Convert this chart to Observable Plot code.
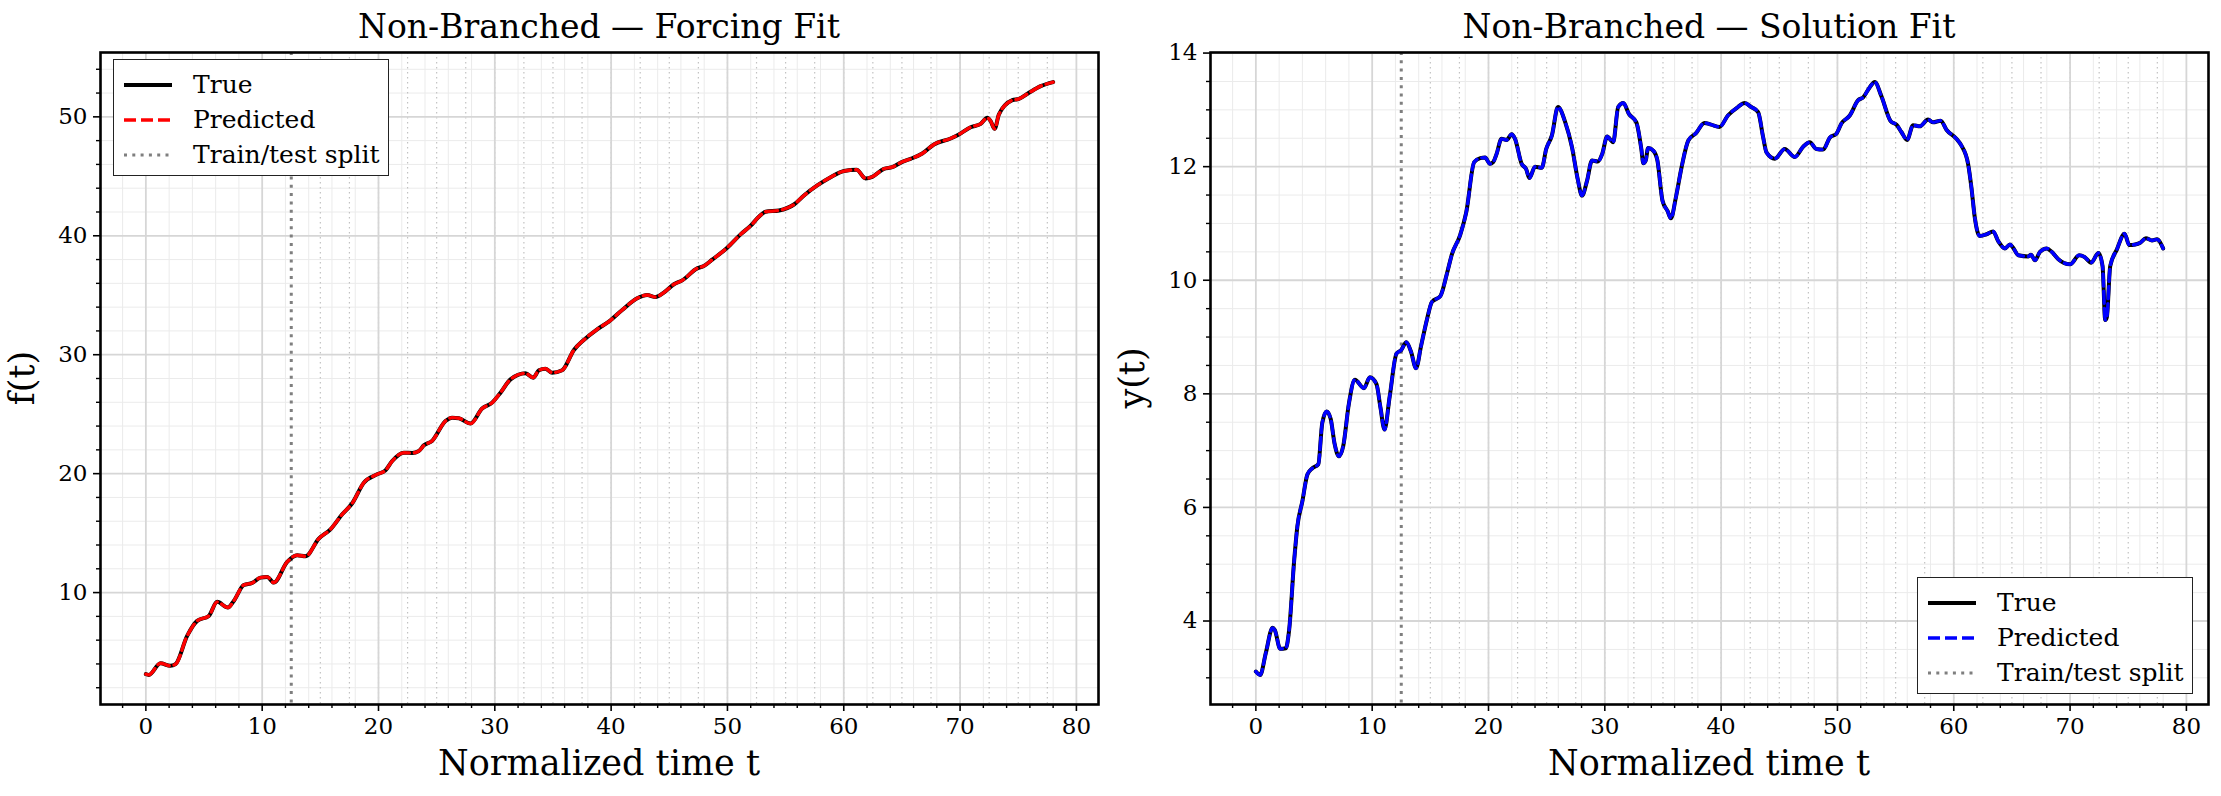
<!DOCTYPE html>
<html><head><meta charset="utf-8">
<script src="https://cdn.jsdelivr.net/npm/d3@7"></script>
<script src="https://cdn.jsdelivr.net/npm/@observablehq/plot@0.6"></script>
<style>
body{margin:0;background:#fff;}
#fig{position:relative;width:2221px;height:796px;font-family:"DejaVu Serif",serif;color:#000;overflow:hidden;background:#fff}
.panel{position:absolute;top:0;width:1110px;height:796px}
.title{position:absolute;left:100px;width:998px;top:7px;text-align:center;font-size:33px;line-height:40px;white-space:nowrap}
.plotwrap{position:absolute;left:0;top:48px}
.xlabel{position:absolute;left:100px;width:998px;top:743px;text-align:center;font-size:35px;line-height:40px;white-space:nowrap}
.ylabel{position:absolute;left:22px;top:378px;transform:translate(-50%,-50%) rotate(-90deg);font-size:35px;line-height:40px;white-space:nowrap}
.legend{position:absolute;width:274px;height:115px;border:1.6px solid #222;background:#fff}
.legend .row{position:absolute;left:0;height:34px;width:100%}
.legend svg{position:absolute;left:9px;top:12px}
.legend span{position:absolute;left:79px;top:0;font-size:25px;line-height:34px;white-space:nowrap}
</style></head>
<body>
<div id="fig"></div>
<script>
// ---------- data ----------
const tForce = [0,0.25,1.26,2.1,2.55,3.55,4.41,5.41,6.13,7.05,7.56,8.42,9.14,9.85,10.43,11.0,12.15,13.01,13.72,14.87,15.87,16.88,17.74,18.74,19.89,20.6,21.18,22.18,22.9,23.47,23.9,24.6,25.76,26.33,26.91,27.91,28.91,29.77,30.49,31.35,32.64,33.3,33.79,34.36,34.93,35.79,36.8,37.65,38.8,39.8,40.95,42.24,43.1,43.82,44.53,45.4,46.11,47.4,47.97,48.69,49.98,51.13,52.0,52.7,53.28,54.43,55.72,56.58,57.72,58.87,60.02,61.1,61.88,62.45,63.45,64.17,65.03,65.75,66.75,67.75,69.19,69.9,70.91,71.77,72.34,72.63,72.97,73.34,74.49,75.06,75.92,76.93,78.0];
const fTrue = [3.14,3.08,4.06,3.84,3.98,6.36,7.62,8.04,9.22,8.74,9.3,10.64,10.81,11.26,11.32,10.84,12.58,13.14,13.05,14.54,15.32,16.58,17.51,19.24,19.94,20.28,21.06,21.76,21.74,21.9,22.38,22.75,24.43,24.71,24.66,24.21,25.47,25.97,26.81,27.93,28.44,28.07,28.69,28.83,28.49,28.69,30.4,31.24,32.14,32.78,33.76,34.74,35.02,34.85,35.22,35.92,36.25,37.26,37.46,37.99,39.0,40.12,40.85,41.6,42.02,42.13,42.63,43.39,44.23,44.93,45.44,45.55,44.82,44.96,45.63,45.77,46.22,46.47,46.92,47.68,48.18,48.52,49.13,49.41,49.92,49.64,48.99,50.2,51.4,51.51,52.02,52.58,52.92];
const fPred = [3.14,3.08,4.06,3.84,3.98,6.36,7.62,8.04,9.22,8.74,9.3,10.64,10.81,11.26,11.32,10.84,12.58,13.14,13.05,14.54,15.32,16.58,17.51,19.24,19.94,20.28,21.06,21.76,21.74,21.9,22.38,22.75,24.43,24.71,24.66,24.21,25.47,25.97,26.81,27.93,28.44,28.07,28.69,28.83,28.49,28.69,30.4,31.24,32.14,32.78,33.76,34.74,35.02,34.85,35.22,35.92,36.25,37.26,37.46,37.99,39.0,40.12,40.85,41.6,42.02,42.13,42.63,43.39,44.23,44.93,45.44,45.55,44.82,44.96,45.63,45.77,46.22,46.47,46.92,47.68,48.18,48.52,49.13,49.41,49.92,49.64,48.99,50.2,51.4,51.51,52.02,52.58,52.92];

const tSol = [0,0.37,0.86,1.43,1.63,2.09,2.57,2.86,3.29,3.57,4.0,4.43,4.86,5.37,5.71,6.09,6.43,6.77,7.14,7.51,8.0,8.51,9.29,9.8,10.37,10.71,11.06,11.51,12.09,12.49,12.94,13.34,13.77,14.2,14.71,15.14,15.86,16.43,16.86,17.57,18.09,18.77,19.29,19.71,20.12,20.4,20.69,21.12,21.56,21.99,22.28,22.85,23.23,23.52,24.0,24.58,24.96,25.45,25.97,26.6,27.18,27.67,28.04,28.47,28.9,29.4,29.77,30.2,30.72,31.15,31.59,32.07,32.71,33.14,33.31,33.52,33.72,34.18,34.52,34.96,35.39,35.68,36.11,36.6,37.18,37.84,38.56,39.14,39.86,40.58,41.44,42.02,42.59,43.18,43.61,43.9,44.61,45.47,46.33,47.05,47.62,48.19,48.77,49.34,49.91,50.34,51.06,51.78,52.21,52.78,53.21,53.78,54.58,55.07,55.5,55.99,56.5,57.08,57.79,58.22,58.88,59.37,60.23,60.66,61.23,61.52,61.81,62.23,62.81,63.38,63.82,64.4,64.83,65.11,65.55,66.41,66.64,66.98,67.41,67.99,68.42,68.99,70.0,70.78,71.24,71.81,72.44,72.79,73.02,73.16,73.45,74.02,74.68,75.09,75.6,76.03,76.52,77.04,77.47,78.0];
const yTrue = [3.11,3.05,3.44,3.88,3.84,3.51,3.52,3.84,5.06,5.67,6.11,6.58,6.69,6.76,7.49,7.69,7.56,7.12,6.9,7.08,7.83,8.25,8.1,8.29,8.17,7.76,7.37,7.96,8.71,8.77,8.91,8.74,8.45,8.84,9.31,9.62,9.72,10.12,10.46,10.8,11.2,12.08,12.15,12.16,12.05,12.08,12.22,12.49,12.47,12.57,12.49,12.05,11.96,11.8,12.0,11.98,12.31,12.55,13.05,12.78,12.34,11.78,11.49,11.75,12.11,12.09,12.22,12.53,12.43,13.05,13.12,12.93,12.78,12.31,12.06,12.11,12.33,12.28,12.11,11.4,11.22,11.09,11.46,11.99,12.46,12.59,12.77,12.74,12.7,12.9,13.05,13.12,13.05,12.96,12.52,12.25,12.14,12.31,12.17,12.35,12.43,12.31,12.3,12.51,12.58,12.76,12.9,13.17,13.22,13.4,13.49,13.24,12.8,12.74,12.61,12.47,12.73,12.71,12.83,12.78,12.81,12.65,12.49,12.37,12.05,11.63,11.1,10.78,10.81,10.86,10.69,10.56,10.63,10.57,10.44,10.42,10.45,10.35,10.5,10.56,10.5,10.37,10.28,10.44,10.41,10.31,10.48,10.25,9.3,9.35,10.25,10.54,10.82,10.62,10.63,10.66,10.74,10.7,10.72,10.56];
const yPred = [3.11,3.05,3.44,3.88,3.84,3.51,3.52,3.84,5.06,5.67,6.11,6.58,6.69,6.76,7.49,7.69,7.56,7.12,6.9,7.08,7.83,8.25,8.1,8.29,8.17,7.76,7.37,7.96,8.71,8.77,8.91,8.74,8.45,8.84,9.31,9.62,9.72,10.12,10.46,10.8,11.2,12.08,12.15,12.16,12.05,12.08,12.22,12.49,12.47,12.57,12.49,12.05,11.96,11.8,12.0,11.98,12.31,12.55,13.05,12.78,12.34,11.78,11.49,11.75,12.11,12.09,12.22,12.53,12.43,13.05,13.12,12.93,12.78,12.31,12.06,12.11,12.33,12.28,12.11,11.4,11.22,11.09,11.46,11.99,12.46,12.59,12.77,12.74,12.7,12.9,13.05,13.12,13.05,12.96,12.52,12.25,12.14,12.31,12.17,12.35,12.43,12.31,12.3,12.51,12.58,12.76,12.9,13.17,13.22,13.4,13.49,13.24,12.8,12.74,12.61,12.47,12.73,12.71,12.83,12.78,12.81,12.65,12.49,12.37,12.05,11.63,11.1,10.78,10.81,10.86,10.69,10.56,10.63,10.57,10.44,10.42,10.45,10.35,10.5,10.56,10.5,10.37,10.28,10.44,10.41,10.31,10.48,10.25,9.3,9.35,10.25,10.54,10.82,10.62,10.63,10.66,10.74,10.7,10.72,10.56];

const splitT = [12.5];
const windowMarks = [15,17.5,20,22.5,25,27.5,30,32.5,35,37.5,40,42.5,45,47.5,50,52.5,55,57.5,60,62.5,65,67.5,70,72.5,75,77.5];
const xMajor = [0,10,20,30,40,50,60,70,80];
const xMinor = [-2,2,4,6,8,12,14,16,18,22,24,26,28,32,34,36,38,42,44,46,48,52,54,56,58,62,64,66,68,72,74,76,78];
const fMajor = [10,20,30,40,50];
const fMinor = [2,4,6,8,12,14,16,18,22,24,26,28,32,34,36,38,42,44,46,48,52,54];
const yMajor = [4,6,8,10,12,14];
const yMinor = [3,3.5,4.5,5,5.5,6.5,7,7.5,8.5,9,9.5,10.5,11,11.5,12.5,13,13.5];

const titles = ["Non-Branched \u2014 Forcing Fit", "Non-Branched \u2014 Solution Fit"];
const yLabels = ["f(t)", "y(t)"];
const xLabel = "Normalized time t";
const legendLabels = ["True", "Predicted", "Train/test split"];

// ---------- drawing ----------
function makePlot(t, vt, vp, predColor, yDomain, yMaj, yMin) {
  const trueData = t.map((d, i) => ({t: d, v: vt[i]}));
  const predData = t.map((d, i) => ({t: d, v: vp[i]}));
  return Plot.plot({
    width: 1110, height: 748,
    marginLeft: 100, marginRight: 12, marginTop: 4, marginBottom: 92,
    x: {domain: [-3.9, 81.9]},
    y: {domain: yDomain},
    style: {fontFamily: '"DejaVu Serif", serif', color: "#000", background: "transparent", overflow: "visible"},
    marks: [
      Plot.gridX(xMinor, {stroke: "#ebebeb", strokeOpacity: 1, strokeWidth: 1}),
      Plot.gridY(yMin, {stroke: "#ebebeb", strokeOpacity: 1, strokeWidth: 1}),
      Plot.ruleX(windowMarks, {stroke: "#c2c2c2", strokeWidth: 1.2, strokeDasharray: "1.5,3.5"}),
      Plot.gridX(xMajor, {stroke: "#d6d6d6", strokeOpacity: 1, strokeWidth: 1.8}),
      Plot.gridY(yMaj, {stroke: "#d6d6d6", strokeOpacity: 1, strokeWidth: 1.8}),
      Plot.ruleX(splitT, {stroke: "#7f7f7f", strokeWidth: 3, strokeDasharray: "3,5.3"}),
      Plot.line(trueData, {x: "t", y: "v", stroke: "#000", strokeWidth: 4, curve: "monotone-x"}),
      Plot.line(predData, {x: "t", y: "v", stroke: predColor, strokeWidth: 3.4, strokeDasharray: "12,5", curve: "monotone-x"}),
      Plot.frame({stroke: "#000", strokeWidth: 2.6}),
      Plot.axisX(xMinor, {tickSize: 4, fill: "none", strokeWidth: 1.4, label: null}),
      Plot.axisX(xMajor, {tickSize: 7, tickPadding: 6, fontSize: 23, strokeWidth: 1.6, label: null, tickFormat: d => String(d)}),
      Plot.axisY(yMin, {tickSize: 4, fill: "none", strokeWidth: 1.4, label: null}),
      Plot.axisY(yMaj, {tickSize: 7, tickPadding: 6, fontSize: 23, strokeWidth: 1.6, label: null, tickFormat: d => String(d)})
    ]
  });
}

function legend(predColor, left, top) {
  const box = document.createElement("div");
  box.className = "legend";
  box.style.left = left + "px";
  box.style.top = top + "px";
  const styles = [
    {stroke: "#000", w: 4, dash: null},
    {stroke: predColor, w: 3.4, dash: "12,5"},
    {stroke: "#7f7f7f", w: 3, dash: "3,5.3"}
  ];
  legendLabels.forEach((lab, i) => {
    const row = document.createElement("div");
    row.className = "row";
    row.style.top = (8 + i * 35) + "px";
    row.innerHTML = `<svg width="50" height="10"><line x1="1" x2="49" y1="5" y2="5" stroke="${styles[i].stroke}" stroke-width="${styles[i].w}" ${styles[i].dash ? `stroke-dasharray="${styles[i].dash}"` : ""}/></svg><span>${lab}</span>`;
    box.appendChild(row);
  });
  return box;
}

const fig = document.getElementById("fig");
const configs = [
  {left: 0, t: tForce, vt: fTrue, vp: fPred, color: "#ff0000", dom: [0.59, 55.41], maj: fMajor, min: fMinor, leg: [113, 59]},
  {left: 1110, t: tSol, vt: yTrue, vp: yPred, color: "#0000ff", dom: [2.53, 14.01], maj: yMajor, min: yMinor, leg: [807, 577]}
];
configs.forEach((c, k) => {
  const p = document.createElement("div");
  p.className = "panel";
  p.style.left = c.left + "px";
  const ti = document.createElement("div"); ti.className = "title"; ti.textContent = titles[k]; p.appendChild(ti);
  const w = document.createElement("div"); w.className = "plotwrap";
  w.appendChild(makePlot(c.t, c.vt, c.vp, c.color, c.dom, c.maj, c.min));
  p.appendChild(w);
  const xl = document.createElement("div"); xl.className = "xlabel"; xl.textContent = xLabel; p.appendChild(xl);
  const yl = document.createElement("div"); yl.className = "ylabel"; yl.textContent = yLabels[k]; p.appendChild(yl);
  p.appendChild(legend(c.color, c.leg[0], c.leg[1]));
  fig.appendChild(p);
});
</script>
</body></html>
